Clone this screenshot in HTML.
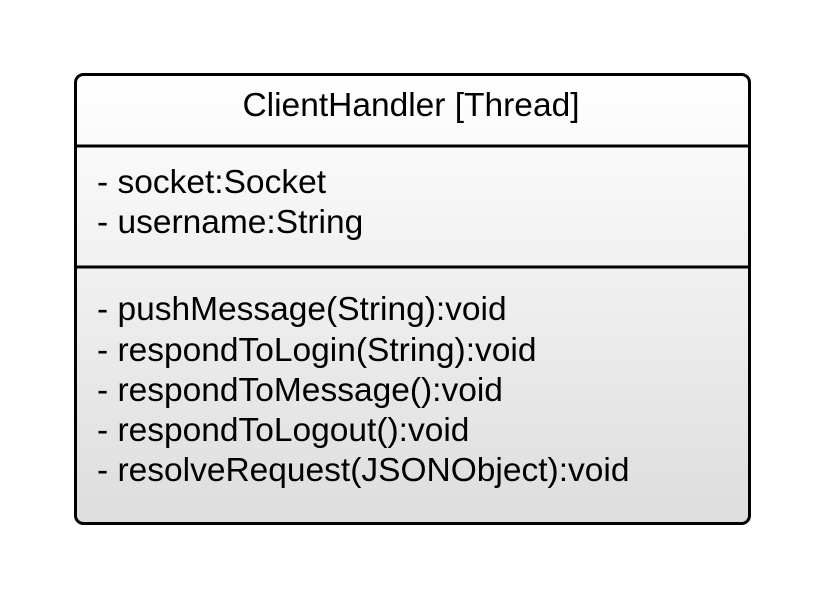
<!DOCTYPE html>
<html><head><style>body{margin:0;background:#fff}svg{display:block}</style></head>
<body>
<svg width="825" height="600" xmlns="http://www.w3.org/2000/svg">
<defs><linearGradient id="g" x1="0" y1="0" x2="0" y2="1"><stop offset="0" stop-color="#ffffff"/><stop offset="1" stop-color="#dddddd"/></linearGradient></defs>
<rect x="75.5" y="74.5" width="674" height="449" rx="8" fill="url(#g)" stroke="#000" stroke-width="3"/>
<line x1="75" y1="146" x2="750" y2="146" stroke="#000" stroke-width="3"/>
<line x1="75" y1="267" x2="750" y2="267" stroke="#000" stroke-width="3"/>
<g font-family="Liberation Sans, Arial, sans-serif" font-size="33.5" fill="#000">
<text x="411" y="116" text-anchor="middle">ClientHandler [Thread]</text>
<text x="97" y="193">- socket:Socket</text>
<text x="97" y="233">- username:String</text>
<text x="97" y="320">- pushMessage(String):void</text>
<text x="97" y="361">- respondToLogin(String):void</text>
<text x="97" y="401">- respondToMessage():void</text>
<text x="97" y="441">- respondToLogout():void</text>
<text x="97" y="481">- resolveRequest(JSONObject):void</text>
</g>
</svg>
</body></html>
